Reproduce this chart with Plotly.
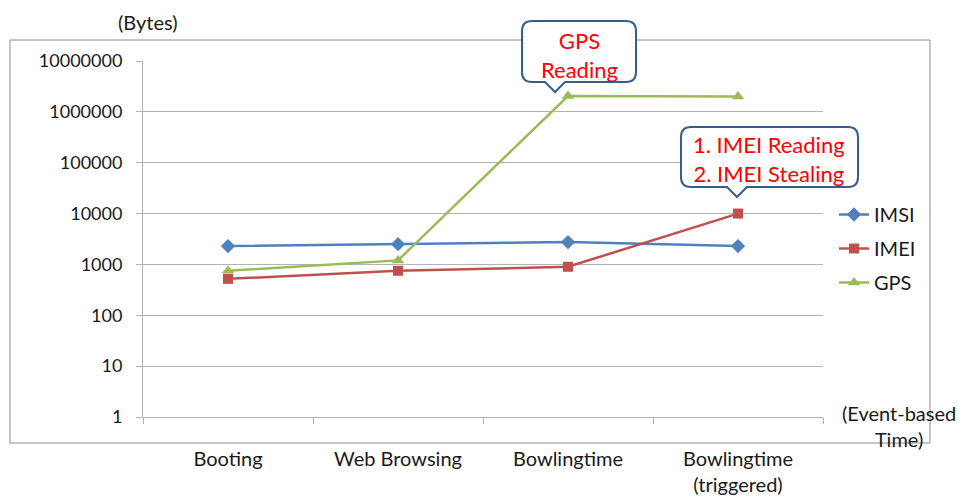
import plotly.graph_objects as go

# Event-based timeline and bytes observed per data type
categories = ["Booting", "Web Browsing", "Bowlingtime", "Bowlingtime<br>(triggered)"]
imsi = [2300, 2500, 2750, 2300]
imei = [520, 750, 900, 10000]
gps = [750, 1200, 2050000, 2000000]
y_ticks = [1, 10, 100, 1000, 10000, 100000, 1000000, 10000000]
y_tick_text = [str(v) for v in y_ticks]

W, H = 965, 500
ML, MR, MT, MB = 143, 142, 61, 83
PW, PH = W - ML - MR, H - MT - MB
FONT = "Lato"
TXT = "#1A1A1A"


def px(x):
    return (x - ML) / PW


def py(y):
    return (H - MB - y) / PH


def callout(left, top, right, bottom, b0, b1, tipx, tipy, r=10):
    """Rounded rectangle with a pointer on its bottom edge, in paper coords."""
    pts = [
        ("M", left + r, top),
        ("L", right - r, top),
        ("Q", right, top, right, top + r),
        ("L", right, bottom - r),
        ("Q", right, bottom, right - r, bottom),
        ("L", b1, bottom),
        ("L", tipx, tipy),
        ("L", b0, bottom),
        ("L", left + r, bottom),
        ("Q", left, bottom, left, bottom - r),
        ("L", left, top + r),
        ("Q", left, top, left + r, top),
    ]
    out = []
    for p in pts:
        cmd, coords = p[0], p[1:]
        xy = []
        for i in range(0, len(coords), 2):
            xy.append(f"{px(coords[i]):.5f},{py(coords[i + 1]):.5f}")
        out.append(cmd + " " + " ".join(xy))
    return " ".join(out) + " Z"


fig = go.Figure()
fig.add_trace(go.Scatter(
    x=categories, y=imsi, name="IMSI", mode="lines+markers",
    line=dict(color="#4F81BD", width=2.5),
    marker=dict(symbol="diamond", size=11, color="#4F81BD"),
    legendgroup="a",
))
fig.add_trace(go.Scatter(
    x=categories, y=imei, name="IMEI", mode="lines+markers",
    line=dict(color="#C0504D", width=2.5),
    marker=dict(symbol="square", size=10, color="#C0504D"),
    legendgroup="b",
))
fig.add_trace(go.Scatter(
    x=categories, y=gps, name="GPS", mode="lines+markers",
    line=dict(color="#9BBB59", width=2.5),
    marker=dict(symbol="triangle-up", size=11, color="#9BBB59"),
    legendgroup="c",
))

grid = "#B3B3B3"
fig.update_xaxes(
    type="category", range=[-0.5, 3.5], automargin=False,
    showline=True, linecolor=grid, linewidth=1,
    ticks="outside", tickson="boundaries", ticklen=6, tickcolor=grid,
    showgrid=False, ticklabelstandoff=24,
    tickfont=dict(family=FONT, size=20, color=TXT),
)
fig.update_yaxes(
    type="log", range=[0, 7], automargin=False,
    tickvals=y_ticks, ticktext=y_tick_text,
    showline=True, linecolor=grid, linewidth=1,
    ticks="outside", ticklen=6, tickcolor=grid,
    showgrid=True, gridcolor=grid, gridwidth=1,
    ticklabelstandoff=10,
    tickfont=dict(family=FONT, size=18, color=TXT),
    zeroline=False,
)

shapes = [
    # chart area border
    dict(type="rect", xref="paper", yref="paper",
         x0=px(10), x1=px(930), y0=py(443), y1=py(40),
         line=dict(color="#8C8C8C", width=1), layer="below"),
    dict(type="path", xref="paper", yref="paper",
         path=callout(522, 21, 636, 82, 545, 565, 555, 92),
         line=dict(color="#385D8A", width=2), fillcolor="white"),
    dict(type="path", xref="paper", yref="paper",
         path=callout(681, 127, 858, 187, 727, 747, 737, 197),
         line=dict(color="#385D8A", width=2), fillcolor="white"),
]


def note(text, x, y, size, color=TXT):
    return dict(text=text, x=px(x), y=py(y), xref="paper", yref="paper",
                xanchor="center", yanchor="middle", showarrow=False,
                align="center", font=dict(family=FONT, size=size, color=color))


annotations = [
    note("(Bytes)", 148, 22, 20),
    note("(Event-based<br>Time)", 899, 426, 20),
    note("GPS<br>Reading", 579, 55, 22, "#FF0000"),
    note("1. IMEI Reading<br>2. IMEI Stealing", 769, 159, 22, "#FF0000"),
]

fig.update_layout(
    width=W, height=H,
    margin=dict(l=ML, r=MR, t=MT, b=MB),
    paper_bgcolor="white", plot_bgcolor="white",
    shapes=shapes, annotations=annotations,
    legend=dict(x=px(834), y=py(195), xanchor="left", yanchor="top",
                font=dict(family=FONT, size=20, color=TXT),
                tracegroupgap=5, bgcolor="rgba(0,0,0,0)"),
    showlegend=True,
)

fig.write_html("out.html")
